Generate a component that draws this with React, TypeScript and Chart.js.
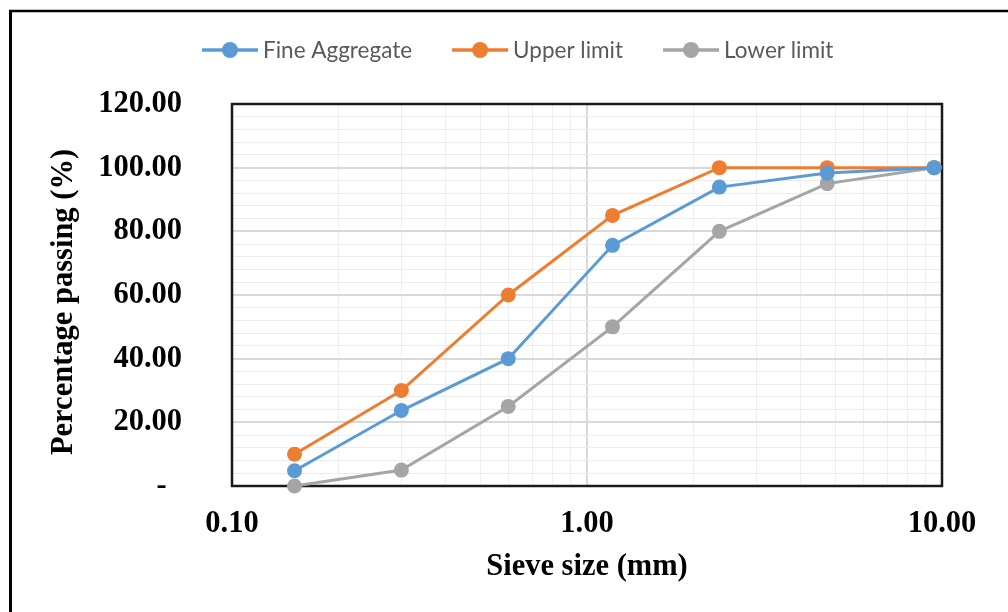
import React, { useEffect, useRef } from 'react';
import { Chart, registerables } from 'chart.js';

Chart.register(...registerables);

// ---- Data ----
const sieveSizes = [0.15, 0.3, 0.6, 1.18, 2.36, 4.75, 9.5];
const fineAggregate = [4.8, 23.7, 40.0, 75.6, 93.9, 98.3, 100];
const upperLimit = [10, 30, 60, 85, 100, 100, 100];
const lowerLimit = [0, 5, 25, 50, 80, 95, 100];
const seriesNames = ['Fine Aggregate', 'Upper limit', 'Lower limit'];
const seriesColors = ['#5B9BD5', '#ED7D31', '#A5A5A5'];
const xTickValues = [0.1, 0.2, 0.3, 0.4, 0.5, 0.6, 0.7, 0.8, 0.9, 1, 2, 3, 4, 5, 6, 7, 8, 9, 10];
const xLabelValues = [0.1, 1, 10];
const yMin = 0;
const yMax = 120;
const yMinorStep = 4;
const yMajorStep = 20;
const xTitle = 'Sieve size (mm)';
const yTitle = 'Percentage passing (%)';

const SERIF = '"Liberation Serif", "Times New Roman", serif';
const isXMajor = (v: number) => xLabelValues.some((m) => Math.abs(m - v) < 1e-9);
const isYMajor = (v: number) => Math.abs(v % yMajorStep) < 1e-9;

const framePlugin = {
  id: 'frame',
  beforeDraw(chart: any) {
    const ctx = chart.ctx;
    ctx.save();
    ctx.fillStyle = '#ffffff';
    ctx.fillRect(0, 0, chart.width, chart.height);
    ctx.strokeStyle = '#000000';
    ctx.lineWidth = 3;
    ctx.beginPath();
    ctx.moveTo(10.5, 10);
    ctx.lineTo(10.5, chart.height + 5);
    ctx.stroke();
    ctx.lineWidth = 2.5;
    ctx.beginPath();
    ctx.moveTo(9, 11);
    ctx.lineTo(chart.width + 5, 11);
    ctx.stroke();
    ctx.restore();
  },
  beforeDatasetsDraw(chart: any) {
    const { ctx, chartArea } = chart;
    ctx.save();
    ctx.strokeStyle = '#1a1a1a';
    ctx.lineWidth = 2.5;
    ctx.strokeRect(chartArea.left, chartArea.top, chartArea.right - chartArea.left, chartArea.bottom - chartArea.top);
    ctx.restore();
  },
  afterDraw(chart: any) {
    const ctx = chart.ctx;
    ctx.save();
    // y-axis title
    ctx.save();
    ctx.translate(64.5, 302);
    ctx.rotate(-Math.PI / 2);
    ctx.font = `bold 30.5px ${SERIF}`;
    ctx.fillStyle = '#000000';
    ctx.textAlign = 'center';
    ctx.textBaseline = 'middle';
    ctx.fillText(yTitle, 0, 0);
    ctx.restore();
    // legend
    ctx.font = '22.5px Lato';
    ctx.textBaseline = 'middle';
    ctx.textAlign = 'left';
    let x = 202;
    const y = 50;
    chart.data.datasets.forEach((ds: any) => {
      ctx.strokeStyle = ds.borderColor;
      ctx.lineWidth = 3.5;
      ctx.beginPath();
      ctx.moveTo(x, y);
      ctx.lineTo(x + 56, y);
      ctx.stroke();
      ctx.fillStyle = ds.borderColor;
      ctx.beginPath();
      ctx.arc(x + 28, y, 8, 0, Math.PI * 2);
      ctx.fill();
      ctx.fillStyle = '#595959';
      ctx.fillText(ds.label, x + 61, y + 1);
      x += 61 + ctx.measureText(ds.label).width + 40;
    });
    ctx.restore();
  },
};

export default function App() {
  const canvasRef = useRef<HTMLCanvasElement | null>(null);

  useEffect(() => {
    if (!canvasRef.current) return;
    const series = [fineAggregate, upperLimit, lowerLimit];
    const chart = new Chart(canvasRef.current, {
      type: 'line',
      data: {
        datasets: series.map((vals, i) => ({
          label: seriesNames[i],
          data: sieveSizes.map((s, j) => ({ x: s, y: vals[j] })),
          borderColor: seriesColors[i],
          backgroundColor: seriesColors[i],
          borderWidth: 3,
          pointRadius: 7.5,
          pointBorderWidth: 0,
          pointHoverRadius: 7.5,
          tension: 0,
          clip: false as any,
        })),
      },
      options: {
        responsive: false,
        animation: false,
        events: [],
        layout: { padding: { left: 30, top: 104, right: 66, bottom: 27 } },
        plugins: {
          legend: { display: false },
          tooltip: { enabled: false },
        },
        scales: {
          x: {
            type: 'logarithmic',
            min: 0.1,
            max: 10,
            afterBuildTicks: (scale: any) => {
              scale.ticks = xTickValues.map((v) => ({ value: v, major: isXMajor(v) }));
            },
            afterFit: (scale: any) => {
              scale.height = 612 - 27 - 486;
            },
            border: { display: false },
            grid: {
              drawTicks: false,
              color: (c: any) => (isXMajor(c.tick.value) ? '#d9d9d9' : '#efefef'),
              lineWidth: (c: any) => (isXMajor(c.tick.value) ? 2 : 1),
            },
            ticks: {
              autoSkip: false,
              maxRotation: 0,
              padding: 20,
              color: '#000000',
              font: { family: SERIF, size: 30.5, weight: 'bold' },
              callback: (v: any) => (isXMajor(Number(v)) ? Number(v).toFixed(2) : ''),
            },
            title: {
              display: true,
              text: xTitle,
              color: '#000000',
              padding: { top: 0, bottom: 0 },
              font: { family: SERIF, size: 30.5, weight: 'bold' },
            },
          },
          y: {
            type: 'linear',
            min: yMin,
            max: yMax,
            afterFit: (scale: any) => {
              scale.width = 232 - 30;
            },
            border: { display: false },
            grid: {
              drawTicks: false,
              color: (c: any) => (isYMajor(c.tick.value) ? '#d9d9d9' : '#ececec'),
              lineWidth: (c: any) => (isYMajor(c.tick.value) ? 2 : 1),
            },
            ticks: {
              stepSize: yMinorStep,
              autoSkip: false,
              padding: 50,
              color: '#000000',
              font: { family: SERIF, size: 30.5, weight: 'bold' },
              callback: (v: any) => {
                const n = Number(v);
                if (!isYMajor(n)) return '';
                return n === 0 ? '-  ' : n.toFixed(2);
              },
            },
            title: { display: false },
          },
        },
      },
      plugins: [framePlugin],
    } as any);
    return () => chart.destroy();
  }, []);

  return (
    <div style={{ position: 'absolute', left: 0, top: 0, width: 1008, height: 612, background: '#fff' }}>
      <canvas ref={canvasRef} width={1008} height={612} style={{ display: 'block' }} />
    </div>
  );
}
